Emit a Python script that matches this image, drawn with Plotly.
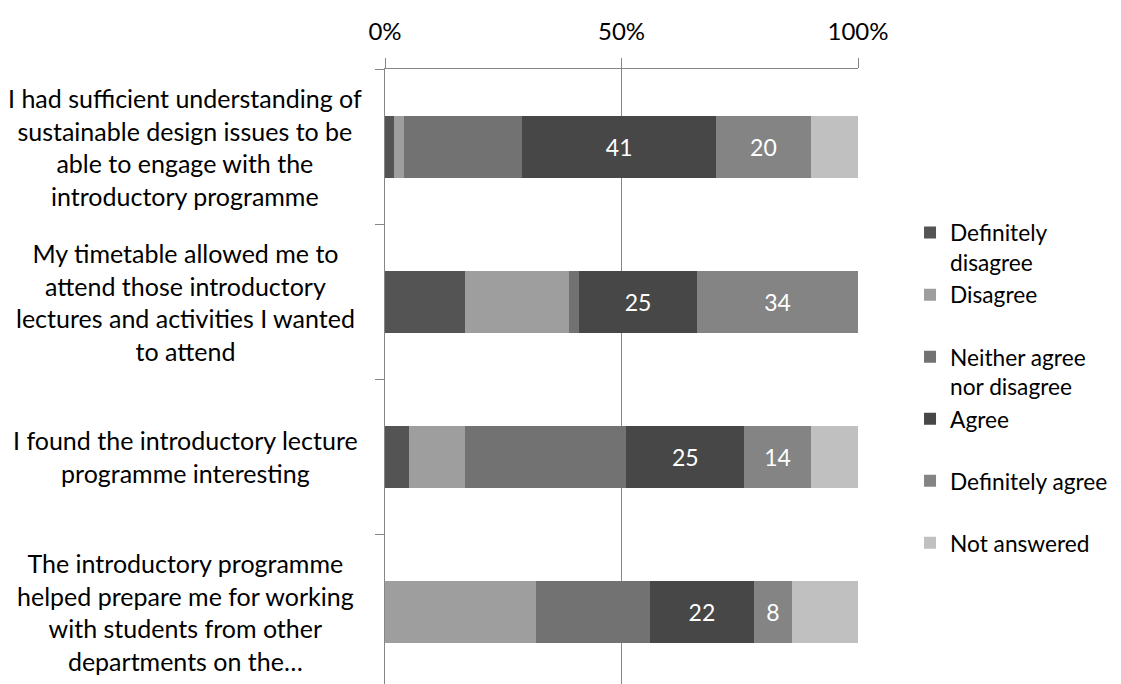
import plotly.graph_objects as go

categories = [
    "I had sufficient understanding of<br>sustainable design issues to be<br>able to engage with the<br>introductory programme",
    "My timetable allowed me to<br>attend those introductory<br>lectures and activities I wanted<br>to attend",
    "I found the introductory lecture<br>programme interesting",
    "The introductory programme<br>helped prepare me for working<br>with students from other<br>departments on the…",
]

series_names = ["Definitely disagree", "Disagree", "Neither agree nor disagree",
                "Agree", "Definitely agree", "Not answered"]
legend_labels = ["Definitely<br>disagree", "Disagree<br> ", "Neither agree<br>nor disagree",
                 "Agree<br> ", "Definitely agree<br> ", "Not answered<br> "]

definitely_disagree = [2, 17, 5, 0]
disagree = [2, 22, 12, 32]
neither = [25, 2, 34, 24]
agree = [41, 25, 25, 22]
definitely_agree = [20, 34, 14, 8]
not_answered = [10, 0, 10, 14]

series_values = [definitely_disagree, disagree, neither, agree, definitely_agree, not_answered]
show_labels = [False, False, False, True, True, False]
colors = ["#545454", "#9e9e9e", "#727272", "#474747", "#848484", "#c0c0c0"]

x_ticks = [0, 50, 100]
x_ticklabels = ["0%", "50%", "100%"]

FONT = "Lato"
FS_CAT = 25
FS_LEG = 22.7
FS_TICK = 24
FS_LBL = 23

fig = go.Figure()
for i, (name, vals) in enumerate(zip(series_names, series_values)):
    fig.add_trace(go.Bar(
        y=categories, x=vals, orientation="h",
        name=legend_labels[i],
        legendgroup=f"g{i}",
        marker=dict(color=colors[i], line=dict(width=0)),
        width=0.4,
        text=[str(v) for v in vals] if show_labels[i] else None,
        textposition="inside" if show_labels[i] else "none",
        insidetextanchor="middle",
        textfont=dict(color="white", size=FS_LBL, family=FONT),
        hovertemplate=name + ": %{x}<extra></extra>",
    ))

for c in categories:
    fig.add_annotation(
        x=-0.4228, xref="paper", y=c, yref="y",
        text=c, showarrow=False, xanchor="center", yanchor="middle",
        align="center", font=dict(family=FONT, size=FS_CAT, color="#000000"),
    )

fig.update_layout(
    barmode="stack",
    barnorm="percent",
    width=1121, height=684,
    margin=dict(l=377, r=271, t=61, b=0),
    paper_bgcolor="white", plot_bgcolor="white",
    font=dict(family=FONT, size=FS_LEG, color="#000000"),
    showlegend=True,
    legend=dict(
        x=1.110, y=0.7715, xanchor="left", yanchor="top",
        traceorder="grouped", tracegroupgap=0, valign="top",
        font=dict(family=FONT, size=FS_LEG, color="#000000"),
        bgcolor="rgba(0,0,0,0)",
    ),
    uniformtext=dict(minsize=FS_LBL, mode="show"),
)

fig.update_xaxes(
    side="top", range=[0, 100],
    tickvals=x_ticks, ticktext=x_ticklabels,
    showgrid=True, gridcolor="#868686", gridwidth=1,
    showline=True, linecolor="#868686", linewidth=1,
    ticks="outside", ticklen=10, tickcolor="#868686",
    ticklabelstandoff=8,
    zeroline=False,
    tickfont=dict(family=FONT, size=FS_TICK, color="#000000"),
)
fig.update_yaxes(
    type="category",
    range=[3.519, -0.5],
    showticklabels=False,
    showgrid=False,
    showline=True, linecolor="#868686", linewidth=1,
    ticks="outside", ticklen=9, tickcolor="#868686",
    tickson="boundaries",
    zeroline=False,
)

fig.write_html("out.html")
